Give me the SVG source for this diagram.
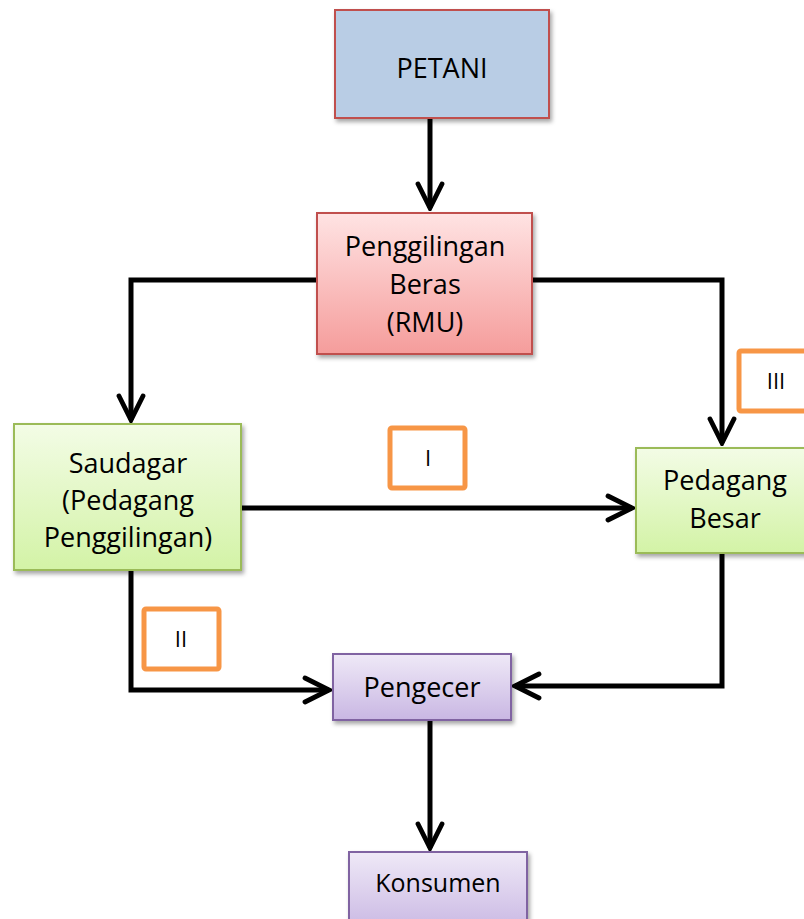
<svg xmlns="http://www.w3.org/2000/svg" width="804" height="919" viewBox="0 0 804 919">
<defs>
<linearGradient id="gRed" x1="0" y1="0" x2="0" y2="1"><stop offset="0" stop-color="#ffe3e3"/><stop offset="1" stop-color="#f59c9b"/></linearGradient>
<linearGradient id="gGreen" x1="0" y1="0" x2="0" y2="1"><stop offset="0" stop-color="#f3fce6"/><stop offset="1" stop-color="#d3f3a6"/></linearGradient>
<linearGradient id="gPurple" x1="0" y1="0" x2="0" y2="1"><stop offset="0" stop-color="#efe9f7"/><stop offset="1" stop-color="#c9b7e3"/></linearGradient>
<filter id="sh" x="-10%" y="-10%" width="130%" height="130%"><feDropShadow dx="2" dy="3" stdDeviation="2" flood-color="#000" flood-opacity="0.35"/></filter>
<marker id="arr" viewBox="0 0 10 10" refX="9" refY="5" markerWidth="6" markerHeight="6" markerUnits="strokeWidth" orient="auto"><path d="M1,1 L9,5 L1,9" fill="none" stroke="#000" stroke-width="1.6" stroke-linecap="round" stroke-linejoin="miter"/></marker>
</defs>
<style>
.t{font-family:"Open Sans","Noto Sans",sans-serif;font-size:27px;fill:#000;text-anchor:middle}
.s{font-size:22px}
.c{fill:none;stroke:#000;stroke-width:5;stroke-linejoin:miter}
.lab{fill:#fff;stroke:#f79646;stroke-width:5}
</style>
<g id="connectors">
<path class="c" d="M430,118 V208" marker-end="url(#arr)"/>
<path class="c" d="M317,280 H131 V420" marker-end="url(#arr)"/>
<path class="c" d="M532,280 H722 V443" marker-end="url(#arr)"/>
<path class="c" d="M241,508 H632" marker-end="url(#arr)"/>
<path class="c" d="M131,570 V690 H329" marker-end="url(#arr)"/>
<path class="c" d="M722,553 V686 H515" marker-end="url(#arr)"/>
<path class="c" d="M430,720 V848" marker-end="url(#arr)"/>
</g>
<g id="petani"><rect x="335" y="10" width="214" height="108" fill="#b9cde5" stroke="#c0504d" stroke-width="2" filter="url(#sh)"/><text class="t" x="442" y="78">PETANI</text></g>
<g id="rmu"><rect x="317" y="213" width="215" height="141" fill="url(#gRed)" stroke="#c0504d" stroke-width="2" filter="url(#sh)"/><text class="t" x="425" y="256">Penggilingan</text><text class="t" x="425" y="294">Beras</text><text class="t" x="425" y="332">(RMU)</text></g>
<g id="saudagar"><rect x="14" y="424" width="227" height="146" fill="url(#gGreen)" stroke="#9bbb59" stroke-width="2" filter="url(#sh)"/><text class="t" x="128" y="473">Saudagar</text><text class="t" x="128" y="510">(Pedagang</text><text class="t" x="128" y="547">Penggilingan)</text></g>
<g id="pedagang-besar"><rect x="636" y="448" width="180" height="105" fill="url(#gGreen)" stroke="#9bbb59" stroke-width="2" filter="url(#sh)"/><text class="t" x="725" y="490">Pedagang</text><text class="t" x="725" y="528">Besar</text></g>
<g id="pengecer"><rect x="333" y="654" width="178" height="66" fill="url(#gPurple)" stroke="#8064a2" stroke-width="2" filter="url(#sh)"/><text class="t" x="422" y="697">Pengecer</text></g>
<g id="konsumen"><rect x="349" y="852" width="178" height="80" fill="url(#gPurple)" stroke="#8064a2" stroke-width="2" filter="url(#sh)"/><text class="t" x="438" y="892" style="font-size:25px">Konsumen</text></g>
<g id="label-I"><rect class="lab" x="390" y="428" width="75" height="60" rx="2"/><text class="t s" x="428" y="466">I</text></g>
<g id="label-II"><rect class="lab" x="144" y="609" width="75" height="60" rx="2"/><text class="t s" x="181" y="647">II</text></g>
<g id="label-III"><rect class="lab" x="739" y="351" width="75" height="60" rx="2"/><text class="t s" x="776" y="389">III</text></g>
</svg>
